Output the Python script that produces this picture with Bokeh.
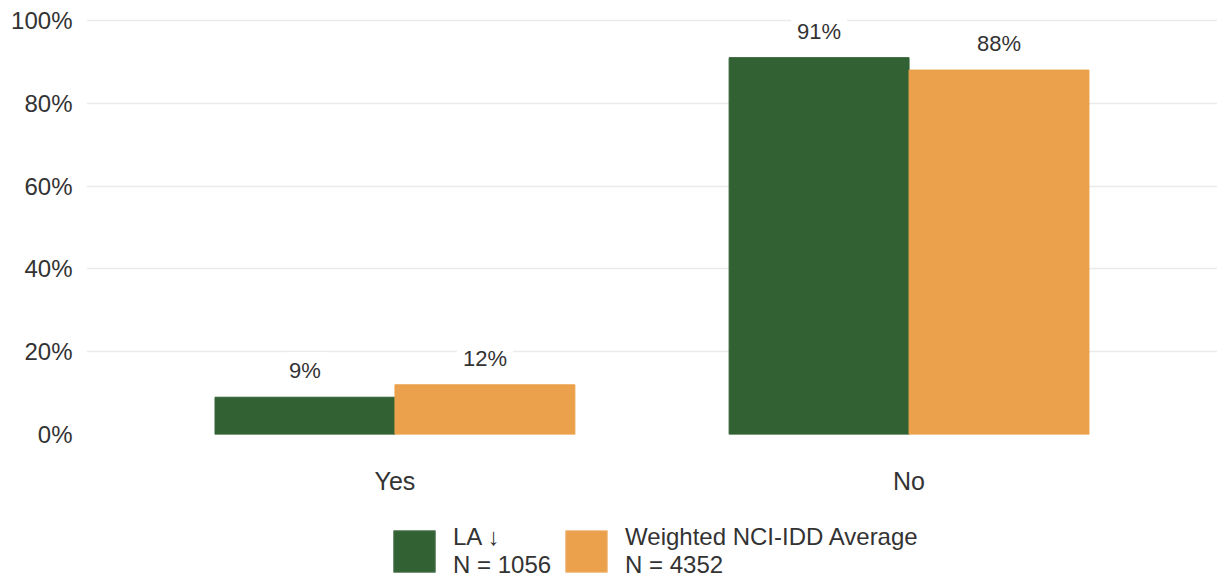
from bokeh.plotting import figure
from bokeh.layouts import column
from bokeh.models import (ColumnDataSource, FactorRange, Range1d, FixedTicker,
                          PrintfTickFormatter, Legend, LegendItem)
from bokeh.transform import dodge
from bokeh.embed import file_html
from bokeh.resources import INLINE
from bokeh.core.properties import value

categories = ["Yes", "No"]
la_values = [9, 91]
avg_values = [12, 88]
series_names = ["LA \u2193\nN = 1056", "Weighted NCI-IDD Average\nN = 4352"]
y_ticks = [0, 20, 40, 60, 80, 100]

GREEN = "#326134"
ORANGE = "#EBA14C"
FONT = "Liberation Sans, DejaVu Sans"
TXT = "#333333"
W = 1217
LEFT = 86

src = ColumnDataSource(data=dict(
    cat=categories,
    la=la_values,
    avg=avg_values,
    la_txt=[f"{v}%" for v in la_values],
    avg_txt=[f"{v}%" for v in avg_values],
))

p = figure(width=W, height=497, output_backend="svg", toolbar_location=None,
           x_range=FactorRange(*categories, range_padding=0.1),
           y_range=Range1d(0, 104.8),
           min_border_left=LEFT, min_border_right=0, min_border_top=0,
           min_border_bottom=62)
p.outline_line_color = None
p.background_fill_color = "white"
p.border_fill_color = "white"

bw = 0.35
r1 = p.vbar(x=dodge("cat", -bw / 2, range=p.x_range), top="la", width=bw,
            source=src, fill_color=GREEN, line_color=GREEN)
r2 = p.vbar(x=dodge("cat", bw / 2, range=p.x_range), top="avg", width=bw,
            source=src, fill_color=ORANGE, line_color=ORANGE)

for col, txt, off in (("la", "la_txt", -bw / 2), ("avg", "avg_txt", bw / 2)):
    p.text(x=dodge("cat", off, range=p.x_range), y=col, text=txt, source=src,
           text_align="center", text_baseline="bottom", y_offset=-8,
           text_font=value(FONT), text_font_size="22px", text_color=TXT,
           background_fill_color="white", padding=6)

# axes
p.xgrid.grid_line_color = None
p.ygrid.grid_line_color = "#EBEBEB"
p.ygrid.grid_line_width = 1.5
p.yaxis.ticker = FixedTicker(ticks=y_ticks)
p.yaxis.formatter = PrintfTickFormatter(format="%d%%")
for ax in (p.xaxis, p.yaxis):
    ax.axis_line_color = None
    ax.major_tick_line_color = None
    ax.minor_tick_line_color = None
    ax.major_tick_out = 0
    ax.major_label_text_font = FONT
    ax.major_label_text_color = TXT
p.yaxis.major_label_text_font_size = "24px"
p.xaxis.major_label_text_font_size = "25px"
p.yaxis.major_label_standoff = 14
p.xaxis.major_label_standoff = 32

# legend figure below the chart (shares the chart's ranges; proxies hidden)
lf = figure(width=W, height=82, output_backend="svg", toolbar_location=None,
            x_range=p.x_range, y_range=p.y_range,
            x_axis_type=None, y_axis_type=None,
            min_border_left=LEFT, min_border_right=0, min_border_top=0,
            min_border_bottom=0)
lf.outline_line_color = None
lf.xgrid.grid_line_color = None
lf.ygrid.grid_line_color = None
lf.border_fill_color = "white"
lf.background_fill_color = "white"
lg1 = lf.vbar(x=dodge("cat", -bw / 2, range=lf.x_range), top="la", width=bw,
              source=src, fill_color=GREEN, line_color="#5E8060", visible=False)
lg2 = lf.vbar(x=dodge("cat", bw / 2, range=lf.x_range), top="avg", width=bw,
              source=src, fill_color=ORANGE, line_color="#F0BC84", visible=False)

legend = Legend(items=[LegendItem(label=series_names[0], renderers=[lg1]),
                       LegendItem(label=series_names[1], renderers=[lg2])],
                orientation="horizontal", location=(388 - LEFT, 0),
                glyph_width=52, glyph_height=52, label_standoff=13,
                spacing=9, padding=0, margin=0, click_policy="none",
                label_text_font=FONT, label_text_font_size="24px",
                label_text_color=TXT, label_text_line_height=0.9,
                border_line_color=None, background_fill_alpha=0)
lf.add_layout(legend)

layout = column(p, lf, spacing=0)
open("out.html", "w").write(file_html(layout, INLINE))
